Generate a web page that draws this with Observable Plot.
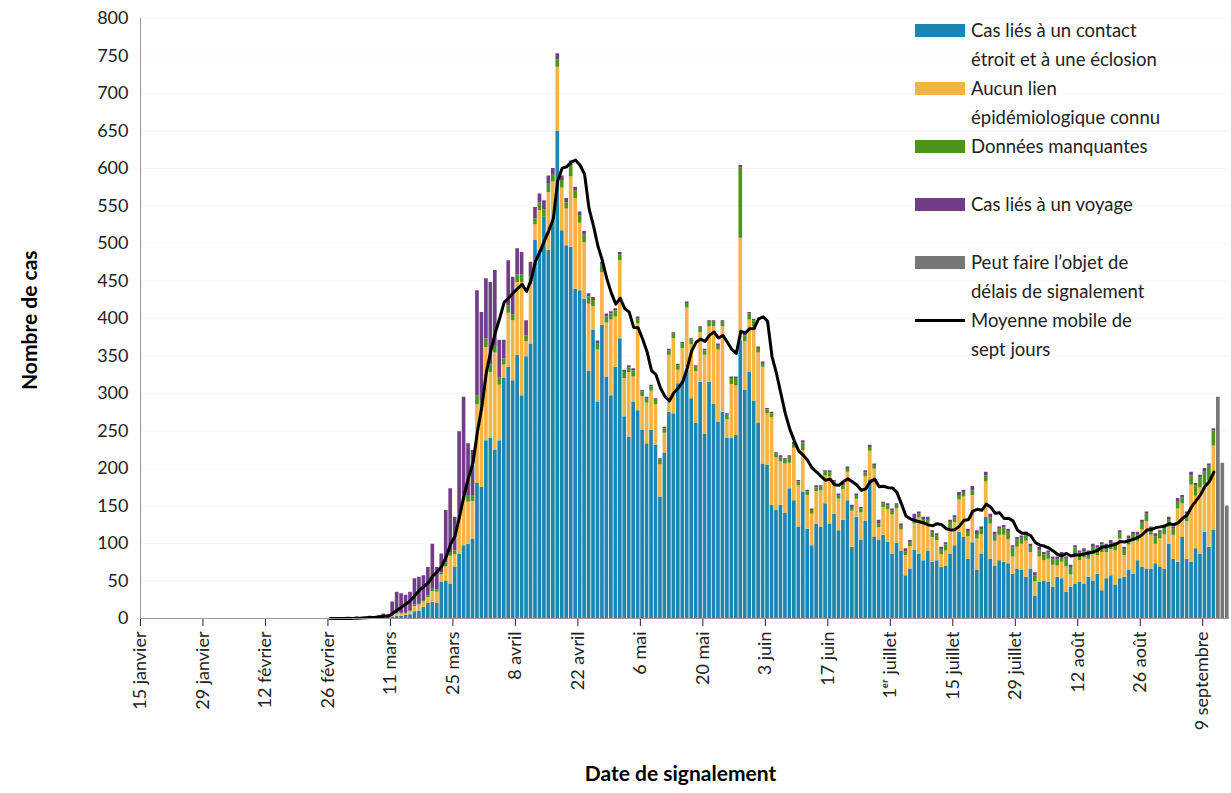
<!DOCTYPE html>
<html>
<head>
<meta charset="utf-8">
<script src="https://cdn.jsdelivr.net/npm/d3@7"></script>
<script src="https://cdn.jsdelivr.net/npm/@observablehq/plot@0.6"></script>
<style>
  body { margin: 0; background: #fff; font-family: Lato, sans-serif; }
  #wrap { position: relative; width: 1231px; height: 793px; }
  #legend { position: absolute; left: 915px; top: 16px; font-size: 18.5px; color: #222; line-height: 29px; }
  .item { position: relative; padding-left: 56px; }
  .sw { position: absolute; left: 0; top: 8px; width: 50px; height: 13px; }
  .ln { position: absolute; left: 0; top: 13px; width: 50px; height: 3px; background: #000; }
  #ylab { position: absolute; left: 16px; top: 318px; transform: rotate(-90deg); transform-origin: left top; font-weight: bold; font-size: 21px; white-space: nowrap; translate: 0 72px; }
  #xlab { position: absolute; left: 0; width: 1231px; top: 760px; text-align: center; font-weight: bold; font-size: 21px; padding-left: 130px; box-sizing: border-box; }
</style>
</head>
<body>
<div id="wrap">
  <div id="chart"></div>
  <div id="legend">
    <div class="item"><span class="sw" style="background:#1b86b2"></span>Cas liés à un contact<br>étroit et à une éclosion</div>
    <div class="item"><span class="sw" style="background:#f6b443"></span>Aucun lien<br>épidémiologique connu</div>
    <div class="item" style="margin-bottom:29px"><span class="sw" style="background:#4c951c"></span>Données manquantes</div>
    <div class="item" style="margin-bottom:29px"><span class="sw" style="background:#733c88"></span>Cas liés à un voyage</div>
    <div class="item"><span class="sw" style="background:#777"></span>Peut faire l’objet de<br>délais de signalement</div>
    <div class="item"><span class="ln"></span>Moyenne mobile de<br>sept jours</div>
  </div>
  <div id="ylab">Nombre de cas</div>
  <div id="xlab">Date de signalement</div>
</div>
<script>
// daily values from 1 March to 11 September
const firstDay = new Date(Date.UTC(2020, 2, 1));

const totals = [
  1,0,2,1,2,3,2,4,6,5,
  22,35,33,31,35,53,55,57,68,99,
  68,86,144,173,135,249,295,233,224,437,408,
  453,448,464,371,371,477,455,493,488,397,
  475,548,566,557,590,600,753,590,560,610,
  575,542,516,433,428,370,475,406,409,413,
  488,331,337,333,402,304,295,311,293,213,
  255,359,381,339,368,422,373,337,389,359,
  397,397,366,397,273,322,322,604,379,408,399,
  362,342,280,275,221,217,213,217,235,184,
  237,171,146,177,177,197,197,184,166,180,
  202,151,166,148,197,231,206,131,155,153,
  146,153,126,93,104,139,142,135,
  135,117,113,95,101,131,137,168,171,119,
  176,117,122,195,139,115,122,124,119,97,
  108,110,115,99,61,95,88,90,82,82,
  88,82,71,97,90,93,90,99,97,101,
  99,104,101,117,95,110,115,115,131,142,
  122,113,117,124,135,122,160,164,142,195,
  180,191,200,206,253
];

const contact = [
  0,0,1,0,1,1,1,1,2,2,
  2,3,3,4,5,9,10,15,20,22,
  20,48,50,46,68,86,97,99,106,180,175,
  237,240,224,237,320,335,317,351,297,349,
  366,504,491,535,491,531,650,517,497,495,
  439,437,426,330,384,288,391,322,297,335,
  373,269,242,288,277,251,233,251,231,162,
  220,275,273,313,317,331,293,260,315,246,
  315,286,262,275,240,240,244,370,304,328,290,
  260,206,204,151,144,151,140,173,157,122,
  168,119,97,126,122,153,126,139,117,131,
  157,95,135,104,130,185,108,104,111,102,
  86,100,90,57,66,91,86,77,
  90,75,77,68,70,86,97,115,108,79,
  101,64,86,135,79,70,77,75,73,59,
  66,64,55,66,30,48,50,48,42,55,
  53,35,42,46,48,46,55,50,59,37,
  53,57,44,53,55,64,59,77,68,66,
  66,73,68,66,99,79,75,108,79,75,
  93,86,115,95,118
];

const travel = [
  1,0,1,1,1,2,1,2,3,2,
  18,28,26,24,25,35,35,33,38,60,
  30,25,70,85,45,110,130,70,60,140,120,
  80,110,100,50,25,60,50,35,30,20,
  20,15,12,12,10,8,8,6,6,6,
  5,5,5,4,4,4,4,4,3,3,
  3,3,3,3,3,2,2,2,2,2,
  2,2,2,2,2,2,2,2,2,2,
  2,2,2,2,2,2,2,3,2,2,2,
  2,2,2,2,2,3,2,2,3,2,
  3,2,2,3,2,2,3,2,2,3,
  2,3,2,2,3,3,2,5,2,3,
  3,2,3,4,3,8,3,3,
  3,3,3,4,3,3,3,4,3,4,
  6,5,4,5,5,4,3,3,4,3,
  3,3,4,3,4,5,3,3,3,4,
  3,3,3,3,3,4,3,4,3,3,
  3,4,3,3,3,4,3,4,3,3,
  3,4,3,4,3,3,4,3,3,5,
  3,3,4,3,3
];

const missing = [
  0,0,0,0,0,0,0,0,0,0,
  0,1,1,1,1,2,2,2,2,3,
  3,3,5,5,5,8,8,8,8,12,12,
  12,10,10,10,8,10,8,10,10,8,
  10,8,10,10,12,10,10,10,8,15,
  10,10,10,10,8,8,10,8,8,8,
  8,8,6,8,6,6,6,6,6,6,
  6,6,6,6,6,6,6,6,6,6,
  6,6,6,6,6,8,10,94,8,8,8,
  6,5,5,5,5,5,5,8,5,5,
  10,5,5,5,5,5,5,5,5,5,
  5,5,5,5,5,5,5,5,5,5,
  5,5,5,5,5,5,5,5,
  5,6,6,6,8,8,6,6,6,6,
  6,6,6,8,8,8,8,10,10,12,
  10,8,8,8,8,8,8,8,8,8,
  10,10,10,12,10,8,8,10,10,10,
  8,8,8,8,8,8,10,8,10,10,
  8,10,8,8,10,8,10,8,10,12,
  14,14,18,20,20
];

// last days, still subject to reporting delays
const delayed = [295, 207, 150];

const day = i => d3.utcDay.offset(firstDay, i);

const rows = [];
totals.forEach((t, i) => {
  const c = contact[i], v = travel[i], m = missing[i];
  const o = Math.max(0, t - c - v - m);
  rows.push({date: day(i), cat: "contact", n: c});
  rows.push({date: day(i), cat: "aucun", n: o});
  rows.push({date: day(i), cat: "manquant", n: m});
  rows.push({date: day(i), cat: "voyage", n: v});
});
delayed.forEach((g, j) => rows.push({date: day(totals.length + j), cat: "delai", n: g}));

// days before March with no case
const start = new Date(Date.UTC(2020, 0, 15));
const avgRows = d3.utcDays(start, firstDay).map(d => ({date: d, n: 0}))
  .concat(totals.map((t, i) => ({date: day(i), n: t})));
const avgShown = avgRows.filter(d => d.date >= new Date(Date.UTC(2020, 1, 26)));

const tickDates = d3.utcDays(start, new Date(Date.UTC(2020, 8, 10)), 14);
const moisFr = ["janvier","février","mars","avril","mai","juin","juillet","août","septembre"];
const fmt = d => (d.getUTCDate() === 1 ? "1ᵉʳ" : d.getUTCDate()) + " " + moisFr[d.getUTCMonth()];

const chart = Plot.plot({
  width: 1231,
  height: 793,
  marginLeft: 140,
  marginRight: 2,
  marginTop: 18,
  marginBottom: 175,
  style: {fontFamily: "Lato, sans-serif", fontSize: "18px", color: "#222"},
  x: {type: "utc", domain: [start, new Date(Date.UTC(2020, 8, 15))], ticks: tickDates, tickFormat: fmt, tickRotate: -90, tickSize: 8, tickPadding: 5, label: null},
  y: {domain: [0, 800], ticks: d3.range(0, 801, 50), grid: true, label: null, tickSize: 0, tickPadding: 12},
  color: {domain: ["contact", "aucun", "manquant", "voyage", "delai"], range: ["#1b86b2", "#f6b443", "#4c951c", "#733c88", "#777777"]},
  marks: [
    Plot.rectY(rows, {x: "date", interval: d3.utcDay, y: "n", fill: "cat", order: ["contact", "aucun", "manquant", "voyage", "delai"], insetLeft: 0.4, insetRight: 0.4}),
    Plot.lineY(avgShown, Plot.windowY({k: 7, anchor: "end"}, {x: d => d3.utcHour.offset(d.date, 12), y: "n", stroke: "#000", strokeWidth: 3})),
    Plot.ruleY([0], {stroke: "#999"}),
    Plot.ruleX([start], {stroke: "#999"})
  ]
});
chart.querySelectorAll("[aria-label='y-grid'] line").forEach(l => l.setAttribute("stroke", "#bbb"));
d3.select("#chart").append(() => chart);
</script>
</body>
</html>
